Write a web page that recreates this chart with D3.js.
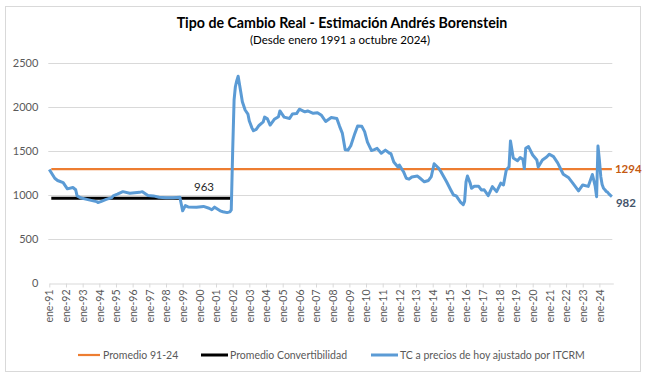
<!DOCTYPE html>
<html>
<head>
<meta charset="utf-8">
<script src="https://cdn.jsdelivr.net/npm/d3@7"></script>
<style>
  body { margin: 0; background: #fff; }
  text { font-family: Lato, "Open Sans", sans-serif; }
</style>
</head>
<body>
<div id="chart"></div>
<script>
// Data ------------------------------------------------------------------------------------------------------------
const months = [
  "1991-01", "1991-05", "1991-07", "1991-11", "1992-02", "1992-06", "1992-08", "1992-09", "1992-12", "1993-04",
  "1993-11", "1993-12", "1994-02", "1994-06", "1994-10", "1994-11", "1995-02", "1995-06", "1995-11", "1996-06",
  "1996-08", "1996-12", "1997-04", "1997-08", "1998-01", "1998-06", "1998-11", "1999-01", "1999-03", "1999-05",
  "1999-11", "2000-04", "2000-08", "2000-10", "2000-12", "2001-04", "2001-06", "2001-09", "2001-11", "2001-12",
  "2002-01", "2002-02", "2002-03", "2002-04", "2002-05", "2002-07", "2002-08", "2002-10", "2002-12", "2003-01",
  "2003-03", "2003-04", "2003-06", "2003-08", "2003-11", "2003-12", "2004-02", "2004-04", "2004-07", "2004-10",
  "2004-11", "2005-02", "2005-06", "2005-08", "2005-11", "2006-01", "2006-05", "2006-07", "2006-11", "2007-02",
  "2007-05", "2007-08", "2007-12", "2008-04", "2008-06", "2008-08", "2008-10", "2008-12", "2009-02", "2009-05",
  "2009-07", "2009-10", "2009-12", "2010-02", "2010-05", "2010-07", "2010-09", "2010-12", "2011-03", "2011-06",
  "2011-07", "2011-09", "2011-12", "2012-01", "2012-04", "2012-06", "2012-08", "2012-10", "2013-02", "2013-04",
  "2013-07", "2013-10", "2013-12", "2014-02", "2014-05", "2014-07", "2014-11", "2015-02", "2015-04", "2015-06",
  "2015-09", "2015-11", "2015-12", "2016-01", "2016-02", "2016-04", "2016-05", "2016-07", "2016-10", "2016-12",
  "2017-02", "2017-05", "2017-08", "2017-11", "2018-02", "2018-04", "2018-06", "2018-08", "2018-09", "2018-11",
  "2019-02", "2019-04", "2019-06", "2019-07", "2019-08", "2019-10", "2020-01", "2020-04", "2020-05", "2020-08",
  "2020-11", "2021-01", "2021-04", "2021-07", "2021-11", "2022-03", "2022-06", "2022-10", "2023-01", "2023-05",
  "2023-08", "2023-10", "2023-11", "2023-12", "2024-01", "2024-02", "2024-03", "2024-04", "2024-05", "2024-06",
  "2024-07", "2024-08", "2024-09", "2024-10"
];
const tcValues = [
  1290, 1190, 1165, 1140, 1070, 1085, 1060, 990, 965, 950,
  925, 915, 925, 950, 970, 990, 1010, 1038, 1020, 1030,
  1038, 995, 990, 975, 970, 968, 975, 820, 880, 865,
  862, 870, 850, 832, 862, 820, 810, 800, 808, 830,
  1500, 2080, 2230, 2300, 2350, 2160, 2060, 1966, 1920, 1840,
  1760, 1730, 1745, 1790, 1830, 1885, 1865, 1795, 1860, 1890,
  1955, 1885, 1870, 1920, 1925, 1975, 1945, 1955, 1928, 1935,
  1905, 1835, 1880, 1870, 1780, 1700, 1515, 1510, 1560, 1700,
  1785, 1780, 1720, 1600, 1505, 1515, 1530, 1475, 1510, 1475,
  1470, 1375, 1318, 1340, 1265, 1190, 1180, 1205, 1215, 1190,
  1150, 1165, 1210, 1355, 1310, 1265, 1150, 1057, 1000, 990,
  920, 890, 930, 1150, 1216, 1135, 1076, 1100, 1100, 1057,
  1060, 992, 1095, 1038, 1135, 1114, 1284, 1320, 1615, 1420,
  1390, 1425, 1405, 1300, 1530, 1550, 1455, 1398, 1318, 1398,
  1432, 1464, 1436, 1365, 1236, 1195, 1133, 1047, 1114, 1098,
  1233, 1100, 981, 1557, 1400, 1208, 1120, 1076, 1060, 1040,
  1030, 1010, 995, 982
];
const promedioTotal = 1294;
const promedioConvertibilidad = 963;
const convertibilidadEnd = "2001-12";
const yTicks = [0, 500, 1000, 1500, 2000, 2500];
const tickYears = d3.range(1991, 2025);
const legendLabels = ["Promedio 91-24", "Promedio Convertibilidad", "TC a precios de hoy ajustado por ITCRM"];

// Canvas ----------------------------------------------------------------------------------------------------------
const canvasWidth = 648;
const canvasHeight = 381;
const plotLeft = 49.3;
const plotRight = 613.3;
const plotTop = 63;
const plotBottom = 283;

const orange = "#ED7D31";
const blue = "#5B9BD5";
const gridColor = "#d9d9d9";
const axisTextColor = "#595959";

const parseMonth = d3.timeParse("%Y-%m");
const series = months.map((m, i) => ({ date: parseMonth(m), value: tcValues[i] }));

const svg = d3.select("#chart")
  .append("svg")
  .attr("width", canvasWidth)
  .attr("height", canvasHeight);

svg.append("rect")
  .attr("x", 5.5)
  .attr("y", 6.5)
  .attr("width", 635)
  .attr("height", 365)
  .attr("fill", "#fff")
  .attr("stroke", gridColor);

// Titles
svg.append("text")
  .text("Tipo de Cambio Real - Estimación Andrés Borenstein")
  .attr("x", 342)
  .attr("y", 28)
  .style("text-anchor", "middle")
  .style("font-weight", "bold")
  .style("font-size", 14.2)
  .style("fill", "#000");

svg.append("text")
  .text("(Desde enero 1991 a octubre 2024)")
  .attr("x", 340)
  .attr("y", 44)
  .style("text-anchor", "middle")
  .style("font-size", 11.5)
  .style("fill", "#000");

// Scales and axes -------------------------------------------------------------------------------------------------
const xScale = d3.scaleTime()
  .domain([new Date(1991, 0, 1), new Date(2024, 10, 1)])
  .range([plotLeft, plotRight]);
const yScale = d3.scaleLinear()
  .domain([0, 2500])
  .range([plotBottom, plotTop]);

// gridlines
svg.append("g")
  .selectAll("line")
  .data(yTicks.filter(d => d > 0))
  .join("line")
  .attr("x1", plotLeft - 1)
  .attr("x2", plotRight - 1)
  .attr("y1", d => Math.round(yScale(d)) + 0.5)
  .attr("y2", d => Math.round(yScale(d)) + 0.5)
  .attr("stroke", gridColor)
  .attr("stroke-width", 1);

const yAxis = svg.append("g")
  .attr("transform", "translate(" + (plotLeft - 11) + ", 0)")
  .call(d3.axisLeft(yScale).tickValues(yTicks).tickSize(0).tickPadding(0).tickFormat(d3.format("d")));
yAxis.select(".domain").remove();
yAxis.selectAll("text")
  .style("font-size", 11)
  .style("font-family", "Lato, sans-serif")
  .style("fill", axisTextColor);

const xAxis = svg.append("g")
  .attr("transform", "translate(0, " + (plotBottom + 0.5) + ")")
  .call(d3.axisBottom(xScale)
    .tickValues(tickYears.map(y => new Date(y, 0, 1)))
    .tickSize(4)
    .tickSizeOuter(0)
    .tickFormat(d => "ene-" + d3.timeFormat("%y")(d)));
xAxis.select(".domain").attr("stroke", gridColor);
xAxis.selectAll("line").attr("stroke", gridColor);
xAxis.selectAll("text")
  .attr("transform", "rotate(-90)")
  .attr("x", -6)
  .attr("y", 0)
  .attr("dy", "0.35em")
  .style("text-anchor", "end")
  .style("font-size", 10.5)
  .style("font-family", "Lato, sans-serif")
  .style("fill", axisTextColor);

// Lines -----------------------------------------------------------------------------------------------------------
const firstDate = series[0].date;
const lastDate = series[series.length - 1].date;

svg.append("line")
  .attr("x1", xScale(firstDate) + 2)
  .attr("x2", xScale(lastDate))
  .attr("y1", yScale(promedioTotal))
  .attr("y2", yScale(promedioTotal))
  .attr("stroke", orange)
  .attr("stroke-width", 2.2);

svg.append("line")
  .attr("x1", xScale(firstDate) + 2)
  .attr("x2", xScale(parseMonth(convertibilidadEnd)))
  .attr("y1", yScale(promedioConvertibilidad))
  .attr("y2", yScale(promedioConvertibilidad))
  .attr("stroke", "#000")
  .attr("stroke-width", 3);

const line = d3.line()
  .x(d => xScale(d.date))
  .y(d => yScale(d.value))
  .curve(d3.curveLinear);

svg.append("path")
  .datum(series)
  .attr("d", line)
  .attr("fill", "none")
  .attr("stroke", blue)
  .attr("stroke-width", 3)
  .attr("stroke-linejoin", "round");

// Data labels
svg.append("text")
  .text(promedioConvertibilidad)
  .attr("x", 204)
  .attr("y", 191)
  .style("text-anchor", "middle")
  .style("font-size", 11.5)
  .style("fill", "#262626");

svg.append("text")
  .text(promedioTotal)
  .attr("x", xScale(lastDate) + 3)
  .attr("y", yScale(promedioTotal) + 4)
  .style("font-size", 11.5)
  .style("font-weight", "bold")
  .style("fill", "#C55A11");

svg.append("text")
  .text(tcValues[tcValues.length - 1])
  .attr("x", xScale(lastDate) + 4)
  .attr("y", yScale(tcValues[tcValues.length - 1]) + 10)
  .style("font-size", 11.5)
  .style("font-weight", "bold")
  .style("fill", "#44546A");

// Legend ----------------------------------------------------------------------------------------------------------
const legendColors = [orange, "#000", blue];
const legendX = [78, 201, 371];
const legendY = 355;

const legend = svg.append("g");
legendLabels.forEach(function(label, i) {
  legend.append("line")
    .attr("x1", legendX[i])
    .attr("x2", legendX[i] + (i == 0 ? 22 : 27))
    .attr("y1", legendY)
    .attr("y2", legendY)
    .attr("stroke", legendColors[i])
    .attr("stroke-width", i == 0 ? 2.2 : 3);
  legend.append("text")
    .text(label)
    .attr("x", legendX[i] + (i == 0 ? 25 : 29))
    .attr("y", legendY + 4)
    .style("font-size", 10.5)
    .style("fill", axisTextColor);
});
</script>
</body>
</html>
